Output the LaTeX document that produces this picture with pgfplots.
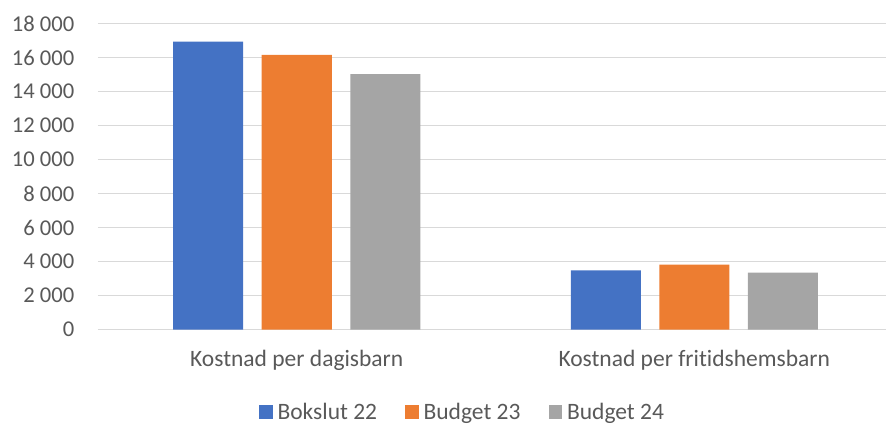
\documentclass[border=0pt]{standalone}
\usepackage{pgfplots}
\pgfplotsset{compat=1.18}
\usepackage{fontspec}
\setmainfont{Carlito}[RawFeature={-liga;-dlig;-clig}]
\definecolor{cBlue}{HTML}{4472C4}
\definecolor{cOrange}{HTML}{ED7D31}
\definecolor{cGray}{HTML}{A5A5A5}
\definecolor{cText}{HTML}{595959}
\definecolor{cGrid}{HTML}{D9D9D9}
\begin{document}
\begin{tikzpicture}
\begin{axis}[
  at={(0,0)}, anchor=south west,
  scale only axis,
  width=795pt, height=306.2pt,
  ybar=18.5pt, bar width=70pt,
  xmin=-0.5, xmax=1.5,
  ymin=0, ymax=18000,
  ytick={0,2000,...,18000},
  xtick={0,1},
  xticklabels={Kostnad per dagisbarn, Kostnad per fritidshemsbarn},
  axis line style={draw=none},
  major tick length=0pt,
  ymajorgrids, grid style={cGrid, line width=1.3pt},
  scaled ticks=false,
  /pgf/number format/assume math mode=true,
  /pgf/number format/1000 sep={\hspace{0.226em}},
  tick label style={font=\fontsize{22.6pt}{27pt}\selectfont, text=cText},
  yticklabel style={anchor=east, inner sep=0pt, xshift=-23.5pt},
  xticklabel style={anchor=north, inner sep=0pt, yshift=-20.5pt, font=\fontsize{23.5pt}{28pt}\selectfont},
  legend style={draw=none, fill=none, at={(rel axis cs:0.4585,-0.269)}, anchor=center,
    legend columns=-1, font=\fontsize{23.5pt}{28pt}\selectfont, text=cText,
    /tikz/every odd column/.append style={column sep=3pt},
    /tikz/every even column/.append style={column sep=26pt}},
  legend image code/.code={\fill[#1] (0pt,-6.8pt) rectangle (13.5pt,6.8pt);},
  every axis plot/.append style={draw=none},
  clip=false,
]
\addplot[fill=cBlue] coordinates {(0,16940) (1,3490)};
\addplot[fill=cOrange] coordinates {(0,16160) (1,3820)};
\addplot[fill=cGray] coordinates {(0,15020) (1,3350)};
\legend{Bokslut 22, Budget 23, Budget 24}
\coordinate (bl) at (rel axis cs:0,0);
\end{axis}
\pgfresetboundingbox
\path (bl) ++(-98pt,-96.3pt) rectangle ++(886pt,426pt);
\end{tikzpicture}
\end{document}
